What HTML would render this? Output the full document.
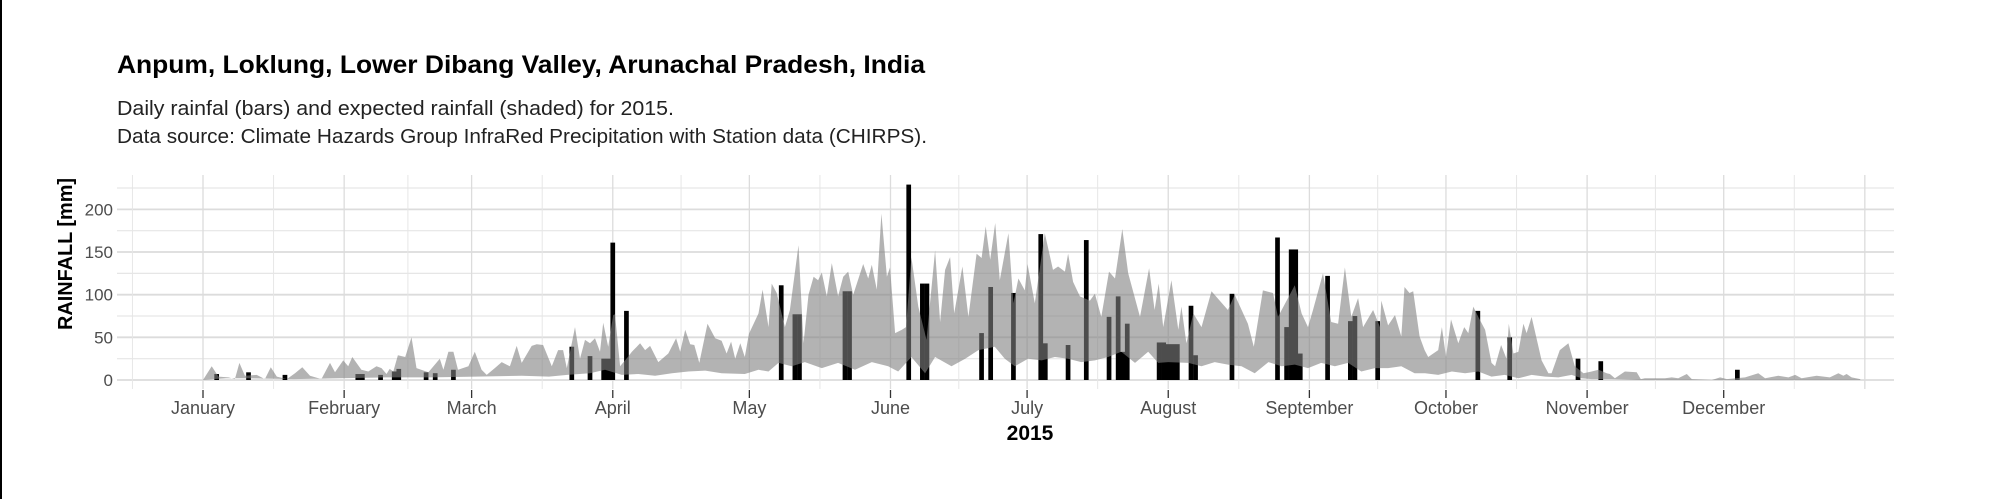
<!DOCTYPE html>
<html><head><meta charset="utf-8">
<style>
html,body{margin:0;padding:0;background:#fff;}
svg{display:block;font-family:"Liberation Sans",sans-serif;}
</style></head>
<body>
<svg id="chart" width="2000" height="499" viewBox="0 0 2000 499" xmlns="http://www.w3.org/2000/svg">
<rect x="0" y="0" width="2000" height="499" fill="#fff"/>
<rect x="0" y="0" width="2" height="499" fill="#000"/>
<text x="117" y="73" font-size="25" font-weight="bold" fill="#000" textLength="808" lengthAdjust="spacingAndGlyphs">Anpum, Loklung, Lower Dibang Valley, Arunachal Pradesh, India</text>
<text x="117" y="115" font-size="20" fill="#222" textLength="557" lengthAdjust="spacingAndGlyphs">Daily rainfal (bars) and expected rainfall (shaded) for 2015.</text>
<text x="117" y="143" font-size="20" fill="#222" textLength="810" lengthAdjust="spacingAndGlyphs">Data source: Climate Hazards Group InfraRed Precipitation with Station data (CHIRPS).</text>
<g id="grid"></g>
<g id="bars"></g>
<g id="ribbon"></g>
<g id="axes"></g>
<text transform="translate(72,254) rotate(-90)" text-anchor="middle" font-size="20" font-weight="bold" fill="#000" textLength="152" lengthAdjust="spacingAndGlyphs">RAINFALL [mm]</text>
<text x="1030" y="440" text-anchor="middle" font-size="21" font-weight="bold" fill="#000">2015</text>
</svg>
<script>
const rainDays   = [3,10,18,34,35,39,42,43,49,51,55,81,85,88,89,90,93,127,130,131,141,142,155,158,159,171,173,178,184,185,190,194,199,201,202,203,210,211,212,213,214,217,218,226,236,238,239,240,241,247,252,253,258,280,287,302,307,337];
const rainValues = [7,9,6,7,7,6,10,13,9,8,12,39,28,25,25,161,81,111,77,77,104,104,229,113,113,55,109,102,171,43,41,164,74,98,33,66,44,44,42,42,42,87,29,101,167,62,153,153,31,122,69,75,69,81,50,25,22,12];
const upperDays = [0,1.9,3.4,5.6,7,8,9.2,11.8,13.6,14.9,16.2,18.4,20.2,21.8,23.5,26,27.9,29,30.8,31.9,32.8,34.8,36.3,38.1,39.2,40.3,41,41.8,42.8,44.4,45.8,46.9,49.5,52,52.8,53.9,55,56,58.3,59.7,61.2,62.3,64.1,65.6,67.4,68.9,70,72.2,73.3,74.7,76.6,78,79.1,79.9,81.7,82.8,83.9,85,86.1,87.2,87.9,89,90.1,
90.5,91.6,93,94.2,96,97.1,98.2,100,102.2,103.9,104.8,105.9,107,107.9,109,110.8,112.5,113.9,115,116,116.9,118,119,119.9,122,122.9,124.2,124.9,126,127.8,128.9,130.8,131.9,133,134.1,135.1,135.9,137,138.1,139.5,140.6,141.7,142.8,145,146.1,146.9,148,149,150.2,150.9,152,153.5,154.4,155.6,157.1,158.9,160.8,161.9,163,164.1,165,166.8,168.1,169.9,171,171.9,172.9,174,175,176.9,178,179.1,180.5,
181.1,182.7,184.9,186.7,187.8,189.3,190,191.1,192.6,194.8,195.9,197.3,199,200.3,201.9,203.2,205.8,207.8,209,209.9,210.9,212.7,214.2,214.9,216,217.5,219.3,221.5,225.1,226.6,229.5,230.8,232.8,235,236.1,239.8,241.3,242.7,243.8,246,247.8,249.3,250.8,252.2,253.7,254.8,257,258.5,258.8,260.3,261.8,263.2,263.9,265,265.8,267.2,268.3,
269.1,271.3,272.1,273,274.1,275.7,277,277.9,279,280.1,281.6,283,283.8,285.1,286.3,286.8,287.8,288.9,290,290.7,291.8,294,295.5,296.2,298,299.9,301.3,303.2,305,306.5,308.3,309,310.1,312.3,314.9,315.8,316.7,321.1,322.6,324,325.9,327,331.4,333.2,334.7,338.7,341.6,343.1,346,348.2,349.7,351.1,354.4,357.3,359.2,360.3,361,362.1,364];
const upperValues = [0,16,4,3,1,20,5,6,1,15,4,1,8,15,5,1,20,9,23,16,27,12,10,16,14,7,13,10,29,27,50,14,9,25,12,33,33,12,16,33,12,6,14,21,16,40,20,40,42,41,16,35,35,14,62,25,47,43,49,33,67,39,76,
77,16,25,33,43,35,40,21,31,49,33,59,42,41,20,66,49,46,31,45,25,43,27,54,78,106,62,113,102,62,82,158,43,100,121,117,126,98,137,98,121,127,100,136,119,135,106,195,121,132,55,59,62,144,86,47,152,68,129,144,78,133,74,148,143,180,141,184,117,172,90,119,105,
136,90,172,129,133,127,148,115,98,93,101,74,127,119,177,125,74,131,82,113,62,117,59,86,43,78,62,104,82,100,66,39,105,102,74,111,78,62,82,125,68,66,132,74,96,62,82,62,93,64,76,51,109,102,104,51,35,
27,35,62,27,71,43,62,55,86,74,59,20,16,41,25,66,31,33,66,55,74,23,8,8,35,43,16,8,10,12,8,7,2,10,9,1,2,2,3,2,7,1,0,3,1,3,8,2,5,3,6,2,5,3,8,5,7,3,1];
const lowerDays = [0,5,10,20,30,40,50,60,70,76,80,85,88.3,92,95.6,99.3,103,106.6,110.3,113.9,119,122,124.2,126.4,129.3,132.2,135.9,139.5,143.2,146.9,150.5,152.7,155.6,158.6,160.8,164.4,167.4,170.3,173.9,176.1,178.3,181.2,184.2,187.1,190,192.9,195.9,198.8,201.7,204.7,207.6,209.8,212,216.4,219.3,222.2,225.1,228.1,231,234,236.9,239.8,242.7,245.6,248.6,251.5,254.4,257.4,260.3,263.2,266.1,268.4,271.3,274.3,277.2,280.1,283,285.9,288.9,291.8,294.8,297.7,300.6,302.8,305,309.4,315.3,364];
const lowerValues = [0,2,2,1,2,3,3,4,5,4,6,8,12,6,7,5,8,10,11,8,7,12,10,20,16,21,14,20,12,21,16,10,27,8,27,16,25,35,39,25,16,25,23,27,25,21,23,27,33,20,33,20,21,20,16,21,18,16,8,21,16,18,14,20,16,20,10,14,14,16,8,8,6,10,8,10,4,6,2,6,4,3,6,2,1,1,0,0];
const yTicks = [0,50,100,150,200];
const yTickLabels = ["0","50","100","150","200"];
const monthStarts = [0,31,59,90,120,151,181,212,243,273,304,334];
const monthLabels = ["January","February","March","April","May","June","July","August","September","October","November","December"];

const NS = "http://www.w3.org/2000/svg";
const PX0 = 117, PX1 = 1894, PY0 = 175, PY1 = 389;
function xScale(d){ return 203 + d * 4.553; }
function yScale(v){ return 380 - v * 0.8533; }
function mk(tag, attrs, parent){
  const el = document.createElementNS(NS, tag);
  for (const k in attrs) el.setAttribute(k, attrs[k]);
  parent.appendChild(el);
  return el;
}
const grid = document.getElementById('grid');
// minor horizontal gridlines
for (let v = 25; v <= 225; v += 50) {
  const l = mk('line', {x1:PX0, x2:PX1, y1:yScale(v), y2:yScale(v), stroke:'#e6e6e6', 'stroke-width':1.2}, grid);
  
  
}
yTicks.forEach(v => {
  const l = mk('line', {x1:PX0, x2:PX1, y1:yScale(v), y2:yScale(v), stroke:'#dcdcdc', 'stroke-width':1.8}, grid);
  
  
});
// vertical gridlines: month starts and midpoints
const vlines = monthStarts.concat([365]);
for (let i = 0; i < vlines.length; i++) {
  const l = mk('line', {x1:xScale(vlines[i]), x2:xScale(vlines[i]), y1:PY0, y2:PY1, stroke:'#dcdcdc', 'stroke-width':1.3}, grid);
  
  
  const prev = i === 0 ? -31 : vlines[i-1];
  const mid = (prev + vlines[i]) / 2;
  const m = mk('line', {x1:xScale(mid), x2:xScale(mid), y1:PY0, y2:PY1, stroke:'#e6e6e6', 'stroke-width':1}, grid);
  
  
}
// bars
const bars = document.getElementById('bars');
const bw = 4.7;
rainDays.forEach((d, i) => {
  const y = yScale(rainValues[i]);
  const r = mk('rect', {x:xScale(d) - bw/2, y:y, width:bw, height:yScale(0) - y, fill:'#000'}, bars);
  
  
});
// ribbon
let dpath = '';
upperDays.forEach((d, i) => { dpath += (i ? 'L' : 'M') + xScale(d).toFixed(1) + ',' + yScale(upperValues[i]).toFixed(1); });
for (let i = lowerDays.length - 1; i >= 0; i--) dpath += 'L' + xScale(lowerDays[i]).toFixed(1) + ',' + yScale(lowerValues[i]).toFixed(1);
dpath += 'Z';
const rib = mk('path', {d:dpath, fill:'rgb(128,128,128)', 'fill-opacity':0.6}, document.getElementById('ribbon'));


// axes
const axes = document.getElementById('axes');
yTicks.forEach((v, i) => {
  const t = mk('text', {x:113, y:yScale(v) + 6, 'text-anchor':'end', 'font-size':17, fill:'#4d4d4d'}, axes);
  t.textContent = yTickLabels[i];
  
  
});
monthStarts.forEach((d, i) => {
  const x = xScale(d);
  const tk = mk('line', {x1:x, x2:x, y1:390, y2:398, stroke:'#333', 'stroke-width':1.3}, axes);
  
  
  const t = mk('text', {x:x, y:414, 'text-anchor':'middle', 'font-size':18, fill:'#4d4d4d'}, axes);
  t.textContent = monthLabels[i];
  
  
});
</script>
</body></html>
